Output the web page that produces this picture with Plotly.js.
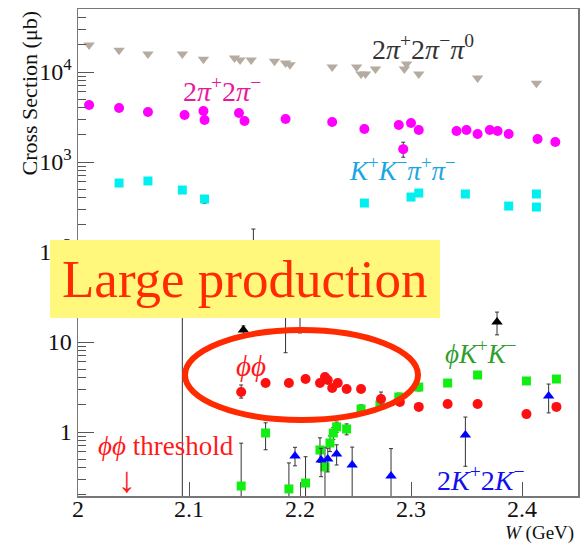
<!DOCTYPE html>
<html>
<head>
<meta charset="utf-8">
<script src="https://cdn.plot.ly/plotly-3.0.1.min.js"></script>
<style>
html,body{margin:0;padding:0;background:#fff;}
#chart{width:580px;height:544px;}
</style>
</head>
<body>
<div id="chart"></div>
<script>
// ---- data (W in GeV, cross section in microbarn) ----
const wPiPiPi0 = [2.010, 2.037, 2.063, 2.094, 2.113, 2.141, 2.146, 2.156, 2.177, 2.187, 2.191, 2.229, 2.251, 2.255, 2.259, 2.268, 2.294, 2.296, 2.307, 2.360, 2.413];
const sPiPiPi0 = [20000, 17500, 15800, 15800, 13900, 14300, 13600, 13600, 13200, 12600, 12000, 11400, 11400, 9500, 9500, 10800, 10800, 12300, 9500, 8600, 7500];

const w4Pi = [2.010, 2.037, 2.063, 2.096, 2.113, 2.114, 2.145, 2.150, 2.187, 2.229, 2.258, 2.289, 2.293, 2.300, 2.307, 2.341, 2.350, 2.360, 2.371, 2.378, 2.388, 2.414, 2.430];
const s4Pi = [4300, 3980, 3590, 3330, 3690, 2930, 3500, 2860, 3000, 2780, 2330, 2580, 1390, 2710, 2270, 2210, 2270, 2050, 2270, 2210, 2050, 1800, 1670];
const e4PiUp = [0, 0, 0, 0, 0, 0, 0, 0, 0, 0, 0, 0, 270, 0, 0, 0, 0, 0, 0, 0, 0, 0, 0];
const e4PiDn = [0, 0, 0, 0, 0, 0, 0, 0, 0, 0, 0, 0, 260, 0, 0, 0, 0, 0, 0, 0, 0, 0, 0];

const wKKPiPi = [2.037, 2.063, 2.094, 2.114, 2.258, 2.300, 2.307, 2.349, 2.388, 2.413, 2.413];
const sKKPiPi = [584, 615, 488, 388, 350, 408, 452, 441, 324, 441, 316];
const eKKPiPiDn = [0, 0, 0, 40, 0, 0, 0, 0, 0, 0, 0];

const wPhiPhi = [2.147, 2.169, 2.190, 2.205, 2.218, 2.2225, 2.225, 2.229, 2.234, 2.242, 2.255, 2.273, 2.290, 2.307, 2.333, 2.360, 2.404, 2.431];
const sPhiPhi = [2.78, 3.50, 3.50, 3.88, 3.50, 4.08, 3.78, 3.08, 3.50, 3.00, 3.00, 2.33, 2.15, 1.90, 2.05, 2.05, 1.58, 1.90];
const ePhiPhiUp = [0.55, 0.12, 0.12, 0.12, 0.12, 0.12, 0.12, 0.12, 0.12, 0.12, 0.12, 0.45, 0.12, 0.12, 0.12, 0.12, 0.12, 0.12];
const ePhiPhiDn = [0.40, 0.12, 0.12, 0.12, 0.12, 0.12, 0.12, 0.12, 0.12, 0.12, 0.12, 0.40, 0.12, 0.12, 0.12, 0.12, 0.12, 0.12];

const wPhiKK = [2.147, 2.169, 2.190, 2.205, 2.218, 2.2225, 2.227, 2.230, 2.233, 2.242, 2.255, 2.272, 2.289, 2.307, 2.333, 2.360, 2.404, 2.431];
const sPhiKK = [0.251, 0.975, 0.233, 0.271, 0.631, 0.409, 0.755, 0.975, 1.14, 1.08, 1.80, 2.00, 2.45, 3.16, 3.50, 4.30, 3.69, 3.88];
const ePhiKKUp = [0.50, 0.29, 0.22, 0.26, 0.23, 0.27, 0.15, 0.15, 0.15, 0.15, 0.20, 0.20, 0.25, 0.30, 0.10, 0.10, 0.10, 0.10];
const ePhiKKDn = [0.15, 0.34, 0.13, 0.17, 0.17, 0.31, 0.15, 0.15, 0.15, 0.15, 0.20, 0.20, 0.25, 0.30, 0.10, 0.10, 0.10, 0.10];

const w4K = [2.1955, 2.219, 2.225, 2.233, 2.247, 2.282, 2.349, 2.424];
const s4K = [0.541, 0.489, 0.50, 0.57, 0.43, 0.324, 0.926, 2.51];
const e4KUp = [0.135, 0.17, 0.16, 0.15, 0.25, 0.33, 0.54, 0.90];
const e4KDn = [0.12, 0.17, 0.14, 0.14, 0.33, 0.224, 0.51, 0.88];

const wOther = [2.094, 2.149, 2.158, 2.187, 2.200, 2.3775];
const sOther = [30, 13.6, 72, 38, 43, 16.7];
const eOtherUp = [20, 1.5, 108, 15, 15, 4.8];
const eOtherDn = [29.9, 1.5, 40, 30.4, 30.4, 4.7];

const xTickVals = [2, 2.1, 2.2, 2.3, 2.4];
const xTickText = ["2", "2.1", "2.2", "2.3", "2.4"];
const yTickVals = [1, 10, 100, 1000, 10000];
const yTickText = ["1", "10", "10<sup>2</sup>", "10<sup>3</sup>", "10<sup>4</sup>"];

// ---- helpers ----
const SERIF = "Liberation Serif, Times New Roman, serif";
const L = 78, R = 2, T = 9, B = 48, WID = 580, HGT = 544;
const PW = WID - L - R, PH = HGT - T - B;
const px = x => (x - L) / PW;
const py = y => (HGT - B - y) / PH;

const minorVals = [];
[0.1, 1, 10, 100, 1000, 10000].forEach(d => { for (let k = 2; k <= 9; k++) minorVals.push(k * d); });

function errs(up, dn) {
  return {type: 'data', symmetric: false, array: up, arrayminus: dn, color: '#333', thickness: 1, width: 2};
}

const traces = [
  {x: wOther, y: sOther, mode: 'markers', type: 'scatter',
   marker: {symbol: 'triangle-up', size: 10, color: '#000'}, error_y: errs(eOtherUp, eOtherDn)},
  {x: wPiPiPi0, y: sPiPiPi0, mode: 'markers', type: 'scatter',
   marker: {symbol: 'triangle-down', size: 10, color: '#b5aba1'}},
  {x: w4Pi, y: s4Pi, mode: 'markers', type: 'scatter',
   marker: {symbol: 'circle', size: 10, color: '#ff00ff'}, error_y: errs(e4PiUp, e4PiDn)},
  {x: wKKPiPi, y: sKKPiPi, mode: 'markers', type: 'scatter',
   marker: {symbol: 'square', size: 9, color: '#00f0f0'}, error_y: errs(eKKPiPiDn.map(() => 0), eKKPiPiDn)},
  {x: wPhiKK, y: sPhiKK, mode: 'markers', type: 'scatter',
   marker: {symbol: 'square', size: 9, color: '#11ee11'}, error_y: errs(ePhiKKUp, ePhiKKDn)},
  {x: w4K, y: s4K, mode: 'markers', type: 'scatter',
   marker: {symbol: 'triangle-up', size: 10, color: '#0000ff'}, error_y: errs(e4KUp, e4KDn)},
  {x: wPhiPhi, y: sPhiPhi, mode: 'markers', type: 'scatter',
   marker: {symbol: 'circle', size: 10, color: '#ff1010'}, error_y: errs(ePhiPhiUp, ePhiPhiDn)}
];

function lab(text, cx, cy, color, size, extra) {
  return Object.assign({text: text, xref: 'paper', yref: 'paper', x: px(cx), y: py(cy),
    xanchor: 'center', yanchor: 'middle', showarrow: false,
    font: {family: SERIF, size: size, color: color}}, extra || {});
}

const annotations = [
  lab("2<i>π</i><sup>+</sup>2<i>π</i><sup>−</sup><i>π</i><sup>0</sup>", 423, 47, '#333', 28),
  lab("2<i>π</i><sup>+</sup>2<i>π</i><sup>−</sup>", 222, 90, '#e8179b', 28),
  lab("<i>K</i><sup>+</sup><i>K</i><sup>−</sup><i>π</i><sup>+</sup><i>π</i><sup>−</sup>", 402, 169, '#1aa6e2', 27),
  lab("<i>ϕK</i><sup>+</sup><i>K</i><sup>−</sup>", 480, 352, '#2e9e2e', 27),
  lab("2<i>K</i><sup>+</sup>2<i>K</i><sup>−</sup>", 481, 478, '#1010ee', 28),
  lab("<i>ϕϕ</i>", 251, 366, '#ff1a1a', 29),
  lab("<i>ϕϕ</i> threshold", 166, 446, '#ff1a1a', 27),
  lab("↓", 127, 480, '#ff1a1a', 36),
  lab("Large production", 245, 279, '#ff2a00', 53),
  {text: "<i>W</i> (GeV)", xref: 'paper', yref: 'paper', x: px(576), y: py(533), xanchor: 'right', yanchor: 'middle',
   showarrow: false, font: {family: SERIF, size: 19, color: '#111'}},
  {text: "Cross Section (μb)", xref: 'paper', yref: 'paper', x: px(29), y: py(9), xanchor: 'center', yanchor: 'top',
   textangle: -90, showarrow: false, font: {family: SERIF, size: 22, color: '#111'}}
];

const shapes = [
  {type: 'rect', xref: 'paper', yref: 'paper', x0: px(50), x1: px(440), y0: py(318), y1: py(240),
   fillcolor: '#fff87c', line: {width: 0}, layer: 'above'},
  {type: 'circle', xref: 'paper', yref: 'paper', x0: px(185), x1: px(418), y0: py(420), y1: py(330),
   line: {color: '#ff2a00', width: 6}, layer: 'above'}
];

const layout = {
  width: WID, height: HGT,
  margin: {l: L, r: R, t: T, b: B, pad: 0},
  paper_bgcolor: '#fff', plot_bgcolor: '#fff',
  showlegend: false, hovermode: false,
  font: {family: SERIF, size: 24, color: '#111'},
  xaxis: {
    range: [2.0, 2.0 + PW / 1110], tickmode: 'array', tickvals: xTickVals, ticktext: xTickText,
    ticks: 'inside', ticklen: 14, tickcolor: '#555', tickwidth: 1, ticklabelstandoff: -9,
    showline: true, linecolor: '#777', linewidth: 1.5, mirror: true,
    showgrid: false, zeroline: false,
    tickfont: {family: SERIF, size: 24, color: '#111'}
  },
  yaxis: {
    type: 'log', range: [-0.7111, 4.7], tickmode: 'array', tickvals: yTickVals, ticktext: yTickText,
    ticks: 'inside', ticklen: 16, tickcolor: '#555', tickwidth: 1,
    minor: {tickmode: 'array', tickvals: minorVals, ticks: 'inside', ticklen: 8, tickcolor: '#555', tickwidth: 1, showgrid: false},
    showline: true, linecolor: '#777', linewidth: 1.5, mirror: true,
    showgrid: false, zeroline: false,
    tickfont: {family: SERIF, size: 24, color: '#111'}
  },
  shapes: shapes,
  annotations: annotations
};

Plotly.newPlot('chart', traces, layout, {displayModeBar: false, staticPlot: true});
</script>
</body>
</html>
